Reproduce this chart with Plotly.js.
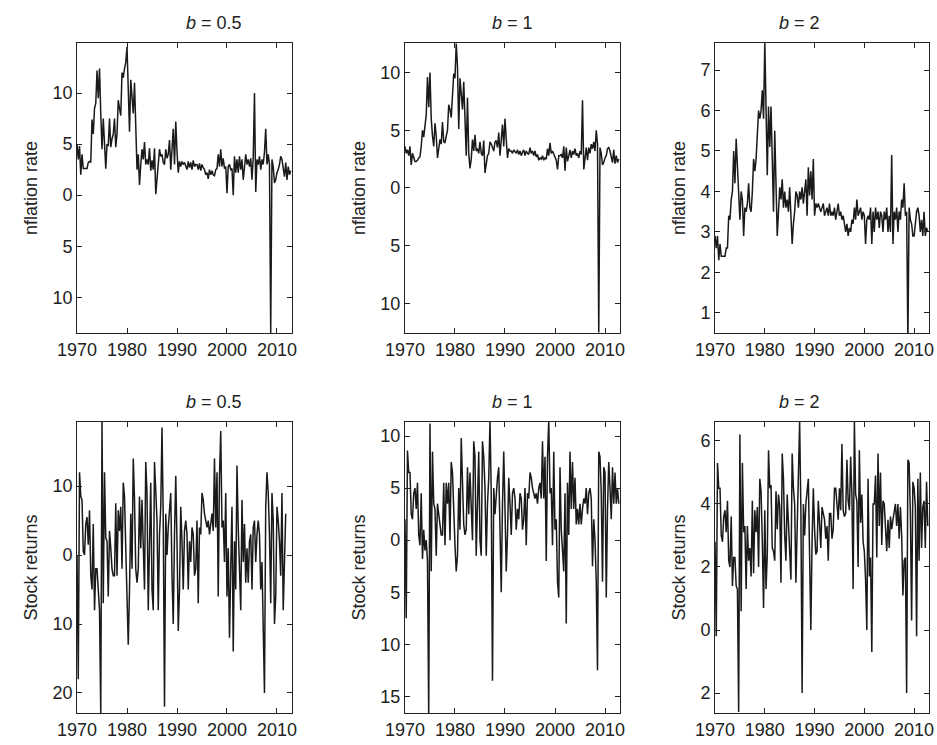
<!DOCTYPE html>
<html><head><meta charset="utf-8">
<script src="https://cdn.plot.ly/plotly-3.0.1.min.js"></script>
<style>body{margin:0;background:#fff}#c{width:937px;height:745px}</style>
</head><body><div id="c"></div>
<script>
const startYear = 1970;
const inflB05 = [5.0,3.5,4.8,2.0, 4.0,2.6,2.6,2.6, 2.6,3.2,3.3,3.2, 7.4,6.0,8.5,9.0, 12.2,9.5,12.4,8.0, 4.5,7.5,5.5,2.6, 5.0,4.8,7.5,4.7, 5.5,6.0,7.5,4.7,
 6.0,9.3,8.5,7.8, 12.0,11.5,12.4,13.0, 14.5,11.0,6.2,11.3, 9.0,8.0,11.0,5.0, 2.5,4.0,1.0,3.0, 4.5,3.5,5.2,3.0, 3.5,3.0,4.6,2.4, 3.4,2.5,4.6,0.1,
 1.6,3.0,4.5,3.8, 4.0,3.2,3.0,4.5, 3.6,4.0,5.4,2.5, 4.6,6.5,3.0,7.2, 4.3,2.2,3.3,2.8, 3.3,3.0,3.2,2.9, 2.5,3.3,2.7,3.2, 2.5,3.4,2.8,3.0,
 3.0,2.5,3.1,2.4, 3.0,2.7,2.5,2.0, 2.2,1.6,2.5,2.0, 2.4,2.0,1.9,2.5, 2.6,4.0,2.8,4.5, 2.8,3.6,2.6,2.8, 0.2,2.8,3.0,2.5, 2.6,0.0,3.8,2.2,
 3.5,2.2,3.8,2.5, 3.5,1.5,3.0,4.0, 3.0,3.5,2.8,3.6, 1.5,3.7,10.0,0.3, 3.5,3.0,3.8,2.5, 3.5,3.0,4.2,6.5, 3.0,4.0,3.0,-13.5, 3.5,2.8,1.2,1.5,
 2.2,2.5,3.0,3.8, 3.5,2.5,1.8,3.2, 1.5,2.8,2.0,2.4];
const inflB1 = [3.6,3.0,3.3,2.8, 3.6,2.0,3.0,2.5, 2.3,2.3,2.4,2.6, 2.7,3.6,5.0,4.4, 5.5,6.3,9.6,7.0, 10.0,6.0,4.5,3.6, 5.6,4.5,2.6,3.5, 4.2,3.8,5.7,4.0,
 3.9,4.5,5.0,7.2, 6.8,6.1,8.8,9.9, 9.5,12.5,10.5,5.1, 9.5,8.0,6.8,9.2, 5.0,2.8,7.8,3.0, 1.7,2.5,4.2,3.2, 4.6,3.2,3.4,3.0, 4.0,3.0,2.8,4.1,
 1.3,2.3,2.8,3.0, 4.0,3.8,3.5,3.2, 4.0,4.1,3.5,4.8, 2.8,4.5,5.5,3.6, 6.0,4.2,2.6,3.4, 3.2,3.2,3.0,3.3, 3.1,3.0,3.3,2.9, 3.2,2.8,3.1,3.3,
 2.8,3.2,3.0,2.9, 3.5,3.0,3.2,2.8, 3.2,2.7,2.9,2.4, 2.6,2.5,2.8,2.4, 2.6,2.5,3.4,2.8, 3.9,3.0,3.2,2.9, 2.7,2.4,1.6,2.8, 2.8,2.9,2.6,3.6,
 1.5,3.5,2.3,3.0, 3.3,2.6,3.2,2.9, 3.4,2.8,3.0,2.6, 3.2,2.9,7.6,1.6, 2.8,3.5,2.4,3.5, 3.0,3.8,3.4,4.0, 3.2,5.0,3.8,-12.5, 3.5,3.0,2.0,2.2,
 2.6,2.8,3.4,3.5, 3.2,2.6,2.2,3.3, 2.1,2.8,2.2,2.5];
const inflB2 = [2.9,2.6,2.9,2.3, 2.7,2.4,2.4,2.4, 2.4,2.6,2.6,3.4, 3.3,3.8,4.0,5.0, 4.2,5.3,4.6,3.9, 3.3,4.0,3.8,2.9, 3.6,3.5,3.7,4.2, 3.6,3.5,4.0,4.8,
 4.5,4.8,5.5,6.0, 5.8,6.0,6.5,5.8, 7.7,6.0,4.4,6.1, 5.1,6.1,5.0,3.5, 5.5,3.7,2.9,3.5, 4.1,3.8,4.3,3.6, 4.0,3.6,3.8,3.5, 4.1,3.4,2.7,3.2,
 3.5,4.0,3.9,3.6, 4.0,3.8,4.1,3.7, 4.0,4.3,3.4,4.6, 3.9,4.5,3.8,4.8, 3.4,3.7,3.6,3.7, 3.6,3.5,3.6,3.7, 3.4,3.5,3.6,3.4, 3.7,3.4,3.5,3.4,
 3.6,3.3,3.5,3.7, 3.4,3.5,3.3,3.4, 3.2,3.0,3.2,2.9, 3.1,3.0,3.3,3.2, 3.6,3.3,3.8,3.4, 3.5,3.6,3.3,3.5, 3.4,2.7,3.3,3.4, 3.3,3.6,2.7,3.5,
 3.0,3.6,3.3,3.5, 3.1,3.5,3.4,3.0, 3.5,3.3,3.6,3.0, 3.4,3.0,4.9,2.7, 3.5,3.3,3.6,3.0, 3.5,3.3,3.8,3.6, 4.2,3.4,3.5,0.3, 3.6,3.3,3.2,2.9,
 2.9,3.2,3.5,3.6, 3.4,3.0,3.3,2.9, 3.5,2.9,3.1,3.0];
const stockB05 = [0,-18,12,8.5, 8,0.5,0,4.5, 5.5,1.5,6.5,-3, -5,4.5,-8,-2, -2,-5.5,-8,-23, 19.5,-7,12,2.5, 2,-6,3.5,1, -2,-3,-3,7.5,
 -3,6.5,3.5,7, -2,10.5,8.5,1, -6,-13,-5,6, -2,14,8,-2, -4,-2,8.5,1, 8,2.5,-5,13.5, 9,-8,3,10.5, -5,-8,13.5,10,
 5,-8,3,7, 18.5,5,-22,6, 0,4,7,9, -3,-10,3,11.5, 2,-11,-5,7, 2,-5,3.5,5, 3,-5,2,-1, 4,3,-3,-2,
 5,-7,4,3, 9,8,6,5, 4,5,3,4.5, 6,3.5,14,4, 12,-6,11.5,18, 4,5,-1,9, -6,1,-12,-2, 7,-14,2,-5,
 13,4,-1,-8, 8,-1,4.5,-4, 1,-4,2,3, -5,4,5,-1, 3,5,3,-5, -1,-11,-20,7, 12,9,3,-7, 9,5,-10,-6,
 7,5,2,-3, 9,-8,-2,6];
const stockB1 = [2,-7.5,8.6,6.5, 6.5,2.5,2,4.5, 5,3,5.5,0.5, -0.5,4.5,-1.8,1, -1,0,-2,-17, 11.2,-3,8.5,3.5, 3,-1.5,3.5,2.5, 1,0.5,0.5,5.5,
 -0.5,5.5,3.5,5.5, 0,7.5,6.5,2.5, -0.5,-3,-1.5,5, 1,9.8,6.5,1.5, 0.5,1,7,2.5, 6.5,3.5,0,9.5, 8,-1.5,3.5,8.5, 0,-1.5,9.5,8,
 5,-1.5,3.5,6, 11.5,4.5,-13.5,5, 2.5,4.5,6,7, 1,-5,3.5,8.5, 3,-3,0.5,6, 3.5,0.5,4.5,5, 4,1,3,2, 4.5,4,1,2,
 5,-0.5,4.5,4, 6.5,6,5,4.5, 4,4.5,3.5,5, 5.5,4,9.5,4, 8,-2,8,11.5, 4.5,5,-0.5,8.5, 1,2,-4,-5.5, 7,1,-1,-3,
 4.5,-8,5.5,0.5, 8.5,3,7.5,3, 6,1.5,3,1.5, 3.5,1.5,3,4, 3.5,5,2.5,4.5, 5,4,-2.5,2, 0,-4,-12.5,8.5, 8,4.5,-4,7,
 6.5,-5.5,3,7.5, 5,2,7,3.5, 6.5,3.5,5,3.5];
const stockB2 = [2.8,-0.2,5.3,4.5, 4.5,3,2.8,3.6, 3.8,3.1,4.1,2.2, 2,3.6,1.4,2.3, 2.3,1.4,1.3,-2.6, 6.2,0.6,5.3,3.1, 3.3,1.3,3.3,2.2, 2.6,1.7,4.1,1.8,
 3.8,3.1,3.9,2, 4.8,4.4,2.8,0.7, 3.8,1.3,2.4,5.7, 4.5,4.6,2.6,2.5, 2.2,4.4,3.2,4.3, 3.9,1.5,5.6,4.8, 3,2.2,4.3,3.6, 2.5,1.6,5.6,4.5,
 4,1.5,3,4.2, 6.6,3.8,-2,4, 3,4,4.4,4.8, 2.4,0,2.8,4.5, 3.2,2.4,2.5,4.1, 3.4,2.6,3.9,3.7, 3.5,2.9,3.3,2.2, 3.7,3.7,2.9,3.2,
 4.5,4.5,3.8,3.5, 4.5,3.8,5.9,3.8, 3.6,3.7,5.4,4.1, 3.8,5.5,4.3,1.3, 6.6,4.3,4.1,2, 5.7,3.4,4.3,2.8, 2.5,1.6,0,4.8, 1.7,2.3,-0.7,4,
 4,4.9,2.3,5.6, 3.3,5,2.7,4.1, 4,3.3,2.5,3.5, 2.6,3.6,3.2,3.5, 3.7,4,3.3,4, 2.9,3.9,3,1.1, 2.2,2.3,-2,5.4, 5.3,3.7,0.3,4.7,
 4.5,3.9,-0.2,4.8, 2.2,5,2.6,3.9, 4.1,2.6,4.7,3.3];
const panelTitles = ["<i>b</i> = 0.5","<i>b</i> = 1","<i>b</i> = 2"];
const yLabels = ["nflation rate","Stock returns"];
const xTicks = [1970,1980,1990,2000,2010];
const yTickVals = [[-10,-5,0,5,10],[-10,-5,0,5,10],[1,2,3,4,5,6,7],[-20,-10,0,10],[-15,-10,-5,0,5,10],[-2,0,2,4,6]];
const yRanges = [[-13.5,14.9],[-12.55,12.55],[0.5,7.67],[-22.9,19.3],[-16.6,11.35],[-2.63,6.6]];

const series = [inflB05,inflB1,inflB2,stockB05,stockB1,stockB2];
const xd = [[0.0822,0.3116],[0.4322,0.6617],[0.7631,0.9915]];
const yd = [[0.553,0.9423],[0.043,0.4336]];
const font = {family:"Liberation Sans, Arial, sans-serif", size:18, color:"#222"};
const traces = [], layout = {width:937,height:745,margin:{l:0,r:0,t:0,b:0},showlegend:false,
  paper_bgcolor:"#fff",plot_bgcolor:"#fff",font:font,annotations:[]};
series.forEach((s,i)=>{
  const x = s.map((_,k)=>startYear + k/4);
  const n = i+1, r = Math.floor(i/3), c = i%3;
  traces.push({x:x,y:s,type:"scatter",mode:"lines",line:{color:"#1a1a1a",width:1.5},
    xaxis:"x"+n,yaxis:"y"+n,cliponaxis:true});
  const ax = {linecolor:"#222",linewidth:1,mirror:"ticks",showline:true,ticks:"inside",ticklen:5,
    tickcolor:"#222",showgrid:false,zeroline:false,tickfont:font};
  layout["xaxis"+n] = Object.assign({},ax,{domain:xd[c],anchor:"y"+n,range:[1970,2013],
    tickvals:xTicks,ticktext:xTicks.map(String)});
  const tv = yTickVals[i];
  layout["yaxis"+n] = Object.assign({},ax,{domain:yd[r],anchor:"x"+n,range:yRanges[i],
    tickvals:tv,ticktext:tv.map(v=>String(Math.abs(v))),
    title:{text:yLabels[r],font:font,standoff:10}});
  layout.annotations.push({text:panelTitles[c],xref:"paper",yref:"paper",
    x:(xd[c][0]+xd[c][1])/2,y:yd[r][1],yanchor:"bottom",yshift:8,showarrow:false,font:font});
});
Plotly.newPlot("c",traces,layout,{staticPlot:true});
</script></body></html>
